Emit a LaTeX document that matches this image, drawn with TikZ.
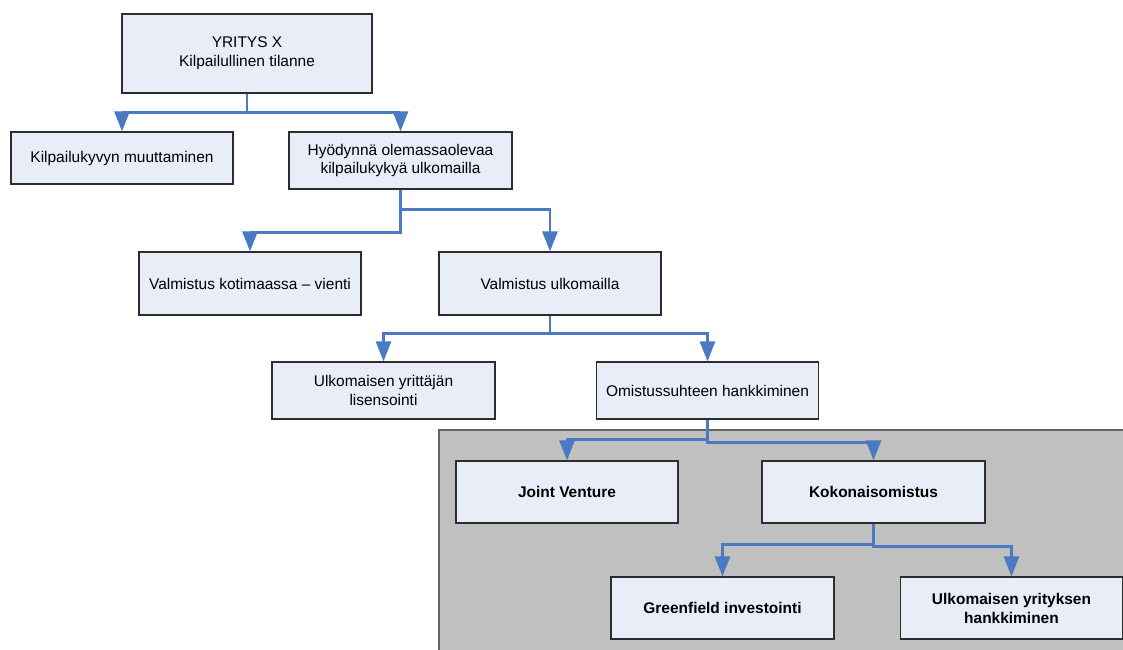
\documentclass[tikz,border=0pt]{standalone}
\usepackage{fontspec}
\setmainfont{Liberation Sans}
\usepackage{tikz}
\usetikzlibrary{arrows.meta,positioning,calc}
\usepackage{xcolor}
\definecolor{linkblue}{RGB}{74,122,196}
\definecolor{boxfill}{RGB}{232,237,247}
\definecolor{boxedge}{RGB}{45,45,45}
\definecolor{zonefill}{RGB}{192,192,192}
\definecolor{zoneedge}{RGB}{100,100,100}
\tikzset{
    obox/.style={draw=boxedge, line width=0.8pt, fill=boxfill,
                 minimum width=5.55cm, minimum height=#1,
                 inner sep=2pt, align=center,
                 font=\fontsize{11}{13.5}\selectfont},
    bbox/.style={obox=#1, font=\fontsize{11}{13.5}\selectfont\bfseries},
}

\begin{document}
\begin{tikzpicture}[
    x=0.025cm, y=-0.025cm,
    arr/.style={-{Triangle[width=0.375cm,length=0.5cm]}, line width=1.9pt, linkblue},
]
    \useasboundingbox (0,0) rectangle (1123,650);
    \filldraw[fill=zonefill, draw=zoneedge, line width=1.2pt] (439,430) rectangle (1140,670);

    \node[obox=1.975cm, minimum width=6.25cm] (firm) at (247,53.5) {YRITYS X\\Kilpailullinen tilanne};
    \node[obox=1.3cm] (change) at (122,158) {Kilpailukyvyn muuttaminen};
    \node[obox=1.425cm, minimum width=5.575cm] (exploit) at (400.5,160.5) {Hyödynnä olemassaolevaa\\kilpailukykyä ulkomailla};
    \node[obox=1.575cm] (export) at (250,283.5) {Valmistus kotimaassa – vienti};
    \node[obox=1.575cm] (abroad) at (550,283.5) {Valmistus ulkomailla};
    \node[obox=1.425cm, minimum width=5.575cm] (licence) at (383.5,390.5) {Ulkomaisen yrittäjän\\lisensointi};
    \node[obox=1.425cm] (owner) at (707.5,390.5) {Omistussuhteen hankkiminen};
    \node[bbox=1.55cm] (joint) at (567,492) {Joint Venture};
    \node[bbox=1.55cm, minimum width=5.575cm] (full) at (873.5,492) {Kokonaisomistus};
    \node[bbox=1.55cm, minimum width=5.575cm] (green) at (722.5,608) {Greenfield investointi};
    \node[bbox=1.55cm] (acquire) at (1011.5,608) {Ulkomaisen yrityksen\\hankkiminen};

    \draw[arr] (firm.south) -- ++(0,19) -| (change.north);
    \draw[arr] (firm.south) -- ++(0,19) -| (exploit.north);
    \draw[arr] (exploit.south) -- ++(0,43) -| (export.north);
    \draw[arr] (exploit.south) -- ++(0,20) -| (abroad.north);
    \draw[arr] (abroad.south) -- ++(0,18) -| (licence.north);
    \draw[arr] (abroad.south) -- ++(0,18) -| (owner.north);
    \draw[arr] (owner.south) -- ++(0,20) -| (joint.north);
    \draw[arr] (owner.south) -- ++(0,23) -| (full.north);
    \draw[arr] (full.south) -- ++(0,21) -| (green.north);
    \draw[arr] (full.south) -- ++(0,23) -| (acquire.north);
\end{tikzpicture}
\end{document}
